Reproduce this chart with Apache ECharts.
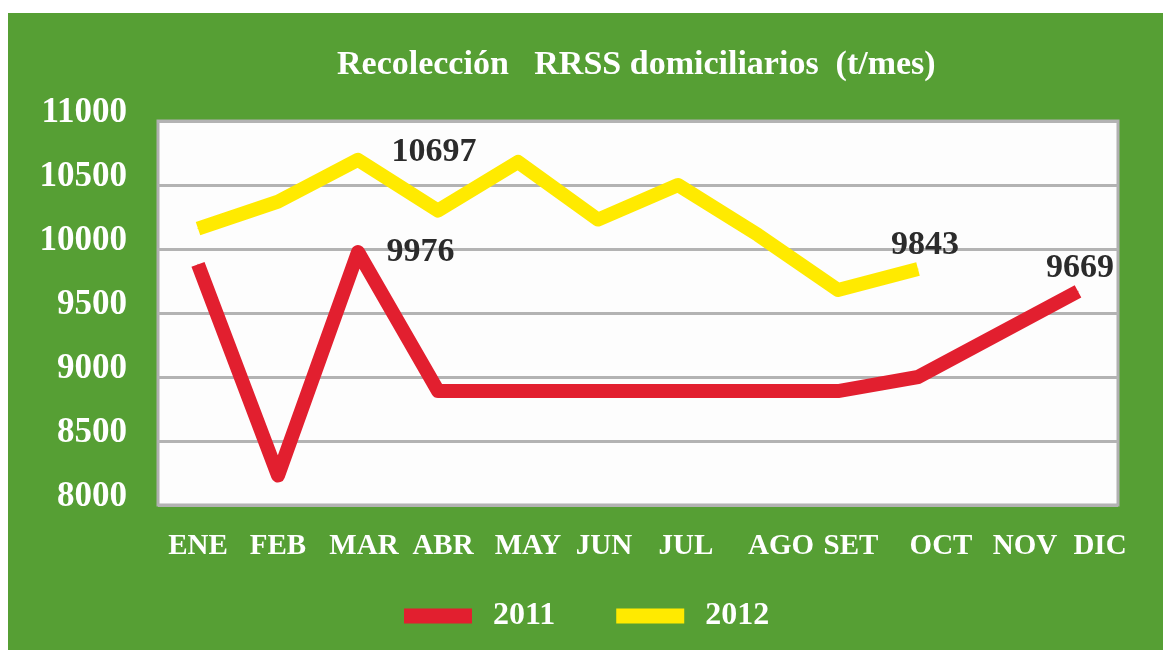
<!DOCTYPE html>
<html>
<head>
<meta charset="utf-8">
<script src="https://cdn.jsdelivr.net/npm/echarts@6/dist/echarts.min.js"></script>
<style>
  html, body { margin: 0; padding: 0; background: #ffffff; }
  #main { position: absolute; left: 8px; top: 13px; width: 1155px; height: 637px; }
</style>
</head>
<body>
<div id="main"></div>
<script>
var months = ['ENE', 'FEB', 'MAR', 'ABR', 'MAY', 'JUN', 'JUL', 'AGO', 'SET', 'OCT', 'NOV', 'DIC'];
var yearNames = ['2011', '2012'];
var data2011 = [9880, 8230, 9976, 8890, 8890, 8890, 8890, 8890, 8890, 9000, null, 9669];
var data2012 = [10160, 10370, 10697, 10300, 10680, 10230, 10500, 10110, 9680, 9843];

var FONT = '"Liberation Serif", "Times New Roman", serif';
var GREEN = '#569f34';

// horizontal nudge of each month label (the source doesn't centre them)
var labelShift = [0, 0, 6, 5, 10, 6, 8, 23, 13, 23, 27, 22];
var rich = {};
labelShift.forEach(function (s, i) {
    rich['m' + i] = {
        color: '#ffffff', fontFamily: FONT, fontWeight: 'bold', fontSize: 29,
        padding: [0, 0, 0, s * 2]
    };
});

function withLabels(arr, labels) {
    return arr.map(function (v, i) {
        if (labels[i]) {
            return { value: v, label: Object.assign({ show: true }, labels[i]) };
        }
        return v;
    });
}

var valueLabel = {
    color: '#2b2b2b', fontFamily: FONT, fontWeight: 'bold', fontSize: 34,
    formatter: function (p) { return p.value; }
};

var chart = echarts.init(document.getElementById('main'));
chart.setOption({
    backgroundColor: GREEN,
    animation: false,
    title: {
        text: 'Recolección   RRSS domiciliarios  (t/mes)',
        left: 329,
        top: 35,
        padding: 0,
        textStyle: { color: '#ffffff', fontFamily: FONT, fontWeight: 'bold', fontSize: 34 }
    },
    legend: {
        left: 391,
        top: 582,
        icon: 'rect',
        itemWidth: 68,
        itemHeight: 15,
        itemGap: 61,
        data: yearNames,
        textStyle: {
            color: '#ffffff', fontFamily: FONT, fontWeight: 'bold', fontSize: 32,
            padding: [0, 0, 0, 16]
        }
    },
    grid: {
        left: 150, top: 108, width: 960, height: 384,
        show: true,
        backgroundColor: '#fdfdfd',
        borderColor: '#b0b0b0',
        borderWidth: 3
    },
    xAxis: {
        type: 'category',
        data: months,
        boundaryGap: true,
        axisLine: { show: false },
        axisTick: { show: false },
        axisLabel: {
            margin: 27,
            interval: 0,
            formatter: function (v, i) { return '{m' + i + '|' + v + '}'; },
            rich: rich
        }
    },
    yAxis: {
        type: 'value',
        min: 8000,
        max: 11000,
        interval: 500,
        axisLine: { show: false },
        axisTick: { show: false },
        splitLine: { lineStyle: { color: '#b3b3b3', width: 3 } },
        axisLabel: {
            margin: 31,
            formatter: function (v) { return String(v); },
            color: '#ffffff', fontFamily: FONT, fontWeight: 'bold', fontSize: 35,
            verticalAlign: 'bottom',
            lineHeight: 16
        }
    },
    series: [
        {
            name: yearNames[0],
            type: 'line',
            data: withLabels(data2011, {
                2: Object.assign({ position: 'right', distance: 28 }, valueLabel),
                11: Object.assign({ position: 'top', distance: 6, offset: [2, 0] }, valueLabel)
            }),
            connectNulls: true,
            showSymbol: true,
            symbol: 'circle',
            symbolSize: 1,
            color: '#e21f2f',
            lineStyle: { color: '#e21f2f', width: 14, join: 'round', cap: 'butt' }
        },
        {
            name: yearNames[1],
            type: 'line',
            data: withLabels(data2012, {
                2: Object.assign({ position: 'right', distance: 33, offset: [0, -8] }, valueLabel),
                9: Object.assign({ position: 'top', distance: 6, offset: [7, 0] }, valueLabel)
            }),
            showSymbol: true,
            symbol: 'circle',
            symbolSize: 1,
            color: '#ffea00',
            lineStyle: { color: '#ffea00', width: 14, join: 'round', cap: 'butt' }
        }
    ]
});
</script>
</body>
</html>
